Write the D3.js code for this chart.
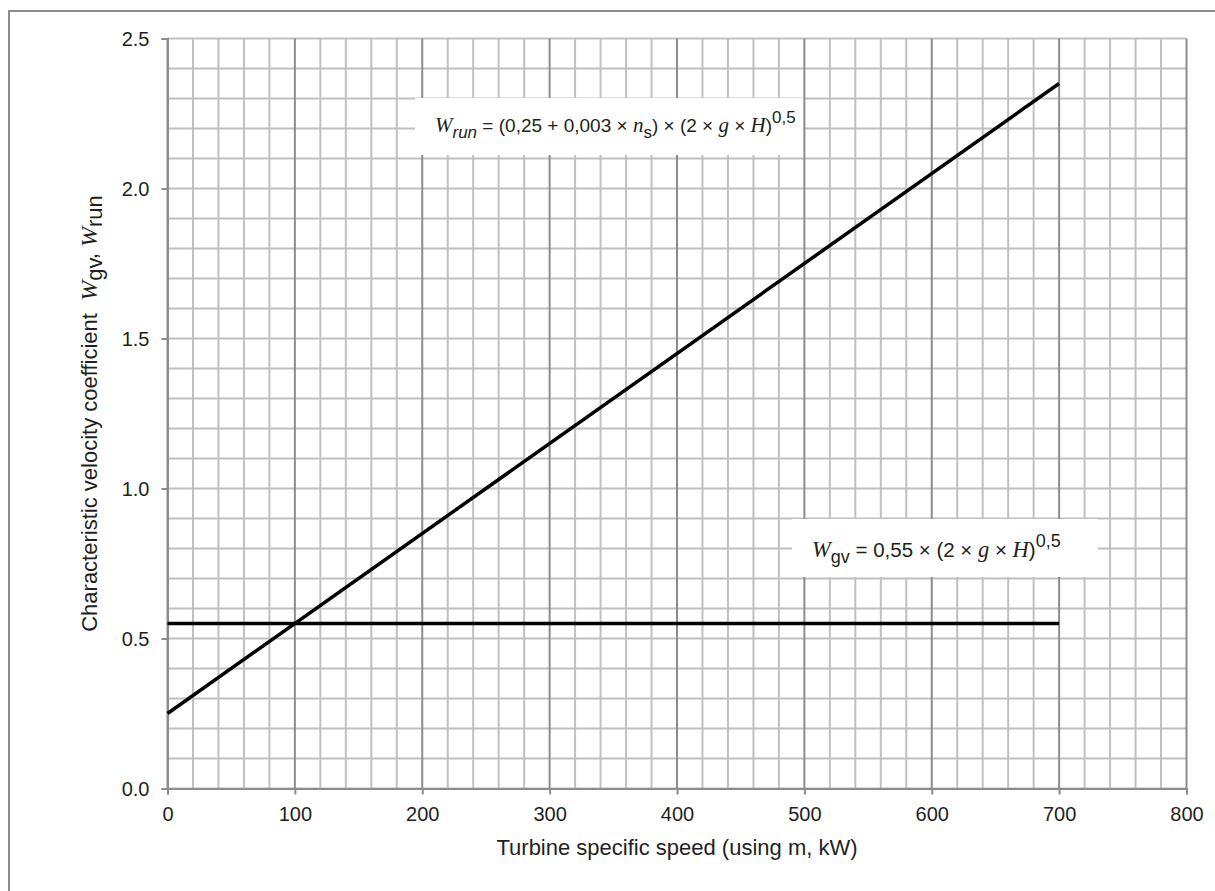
<!DOCTYPE html>
<html lang="en">
<head>
<meta charset="UTF-8">
<title>Characteristic velocity coefficient</title>
<script src="https://d3js.org/d3.v7.min.js"></script>
<style>
  body { margin: 0; background: #fff; }
  svg { display: block; font-family: "Liberation Sans", Arial, sans-serif; }
  .serif { font-family: "Liberation Serif", "Times New Roman", serif; font-style: italic; }
</style>
</head>
<body>
<svg id="chart" width="1215" height="891"></svg>
<script>
  // data
  const specificSpeed = [0, 700];
  const wRun = [0.25, 2.35];
  const wGv = [0.55, 0.55];
  const xTicks = [0, 100, 200, 300, 400, 500, 600, 700, 800];
  const yTicks = [0.0, 0.5, 1.0, 1.5, 2.0, 2.5];

  const svg = d3.select("#chart");
  const m = { left: 167.5, right: 1186.5, top: 38.5, bottom: 788.5 };

  const x = d3.scaleLinear().domain([0, 800]).range([m.left, m.right]);
  const y = d3.scaleLinear().domain([0, 2.5]).range([m.bottom, m.top]);

  // outer frame
  svg.append("rect")
    .attr("x", 9).attr("y", 11).attr("width", 1215).attr("height", 891)
    .attr("fill", "none").attr("stroke", "#8c8c8c").attr("stroke-width", 2);

  // grid
  const grid = svg.append("g");
  d3.range(0, 2.5001, 0.1).forEach(v => {
    grid.append("line")
      .attr("x1", m.left).attr("x2", m.right)
      .attr("y1", y(v)).attr("y2", y(v))
      .attr("stroke", "#c0c0c0").attr("stroke-width", 2);
  });
  d3.range(0, 800.1, 20).forEach(v => {
    const major = Math.round(v) % 100 === 0;
    grid.append("line")
      .attr("x1", x(v)).attr("x2", x(v))
      .attr("y1", m.top).attr("y2", m.bottom)
      .attr("stroke", major ? "#8c8c8c" : "#c0c0c0").attr("stroke-width", 2);
  });

  // axes
  const xAxis = svg.append("g")
    .attr("transform", `translate(0,${m.bottom})`)
    .call(d3.axisBottom(x).tickValues(xTicks).tickSize(6).tickPadding(12).tickFormat(d3.format("d")));
  const yAxis = svg.append("g")
    .attr("transform", `translate(${m.left},0)`)
    .call(d3.axisLeft(y).tickValues(yTicks).tickSize(6).tickPadding(12).tickFormat(d3.format(".1f")));
  [xAxis, yAxis].forEach(a => {
    a.select(".domain").attr("stroke", "#8c8c8c").attr("stroke-width", 2);
    a.selectAll(".tick line").attr("stroke", "#8c8c8c").attr("stroke-width", 2);
    a.selectAll("text").attr("fill", "#231f20").style("font-size", "20px")
      .style("font-family", "'Liberation Sans', Arial, sans-serif");
  });
  yAxis.selectAll("text").attr("dy", "0.36em");

  // label boxes (white, cover the grid)
  svg.append("rect").attr("x", 415).attr("y", 98).attr("width", 388).attr("height", 57).attr("fill", "#fff");
  svg.append("rect").attr("x", 792).attr("y", 519).attr("width", 306).attr("height", 58).attr("fill", "#fff");

  // series lines
  const line = d3.line().x(d => x(d[0])).y(d => y(d[1]));
  [wRun, wGv].forEach(series => {
    svg.append("path")
      .datum(specificSpeed.map((s, i) => [s, series[i]]))
      .attr("d", line)
      .attr("fill", "none").attr("stroke", "#000").attr("stroke-width", 3.5);
  });

  // formula labels
  const f1 = svg.append("text").attr("x", 435).attr("y", 132)
    .attr("fill", "#231f20").style("font-size", "19px");
  f1.append("tspan").attr("class", "serif").style("font-size", "21px").text("W");
  f1.append("tspan").attr("dy", 6).style("font-style", "italic").style("font-size", "17px").text("run");
  f1.append("tspan").attr("dy", -6).text(" = (0,25 + 0,003 × ");
  f1.append("tspan").attr("class", "serif").style("font-size", "21px").text("n");
  f1.append("tspan").attr("dy", 6).style("font-size", "17px").text("s");
  f1.append("tspan").attr("dy", -6).text(") × (2 × ");
  f1.append("tspan").attr("class", "serif").style("font-size", "21px").text("g");
  f1.append("tspan").text(" × ");
  f1.append("tspan").attr("class", "serif").style("font-size", "21px").text("H");
  f1.append("tspan").text(")");
  f1.append("tspan").attr("dy", -9).style("font-size", "17px").text("0,5");

  const f2 = svg.append("text").attr("x", 812).attr("y", 557)
    .attr("fill", "#231f20").style("font-size", "20.5px");
  f2.append("tspan").attr("class", "serif").style("font-size", "22.5px").text("W");
  f2.append("tspan").attr("dy", 6).style("font-size", "18px").text("gv");
  f2.append("tspan").attr("dy", -6).text(" = 0,55 × (2 × ");
  f2.append("tspan").attr("class", "serif").style("font-size", "22.5px").text("g");
  f2.append("tspan").text(" × ");
  f2.append("tspan").attr("class", "serif").style("font-size", "22.5px").text("H");
  f2.append("tspan").text(")");
  f2.append("tspan").attr("dy", -10).style("font-size", "18px").text("0,5");

  // axis titles
  svg.append("text")
    .attr("x", (m.left + m.right) / 2).attr("y", 855)
    .attr("text-anchor", "middle").attr("fill", "#231f20").style("font-size", "22px")
    .text("Turbine specific speed (using m, kW)");

  const yt = svg.append("text")
    .attr("transform", `translate(97,${(m.top + m.bottom) / 2}) rotate(-90)`)
    .attr("text-anchor", "middle").attr("fill", "#231f20").style("font-size", "22px");
  yt.append("tspan").text("Characteristic velocity coefficient \u00a0");
  yt.append("tspan").attr("class", "serif").style("font-size", "24px").text("W");
  yt.append("tspan").attr("dy", 5).text("gv");
  yt.append("tspan").attr("dy", -5).text(", ");
  yt.append("tspan").attr("class", "serif").style("font-size", "24px").text("W");
  yt.append("tspan").attr("dy", 5).text("run");
</script>
</body>
</html>
